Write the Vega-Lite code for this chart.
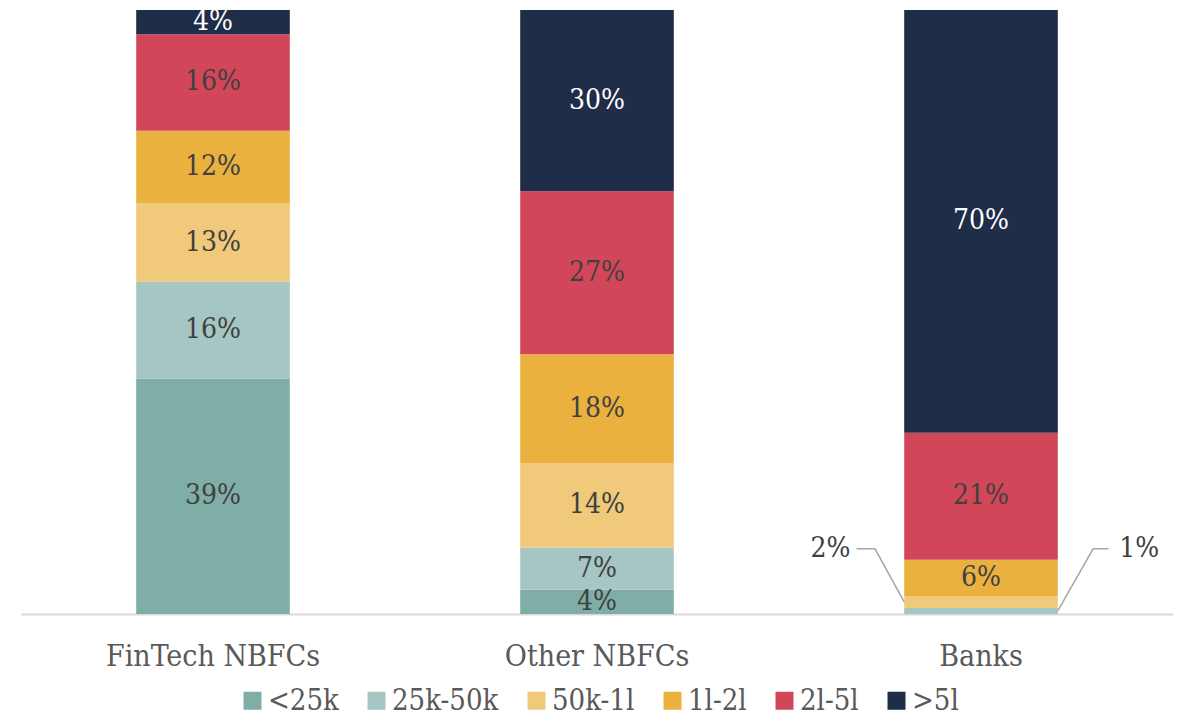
{
  "$schema": "https://vega.github.io/schema/vega-lite/v6.json",
  "width": 1152,
  "height": 604,
  "padding": {"left": 21, "top": 8, "right": 7, "bottom": 0},
  "background": "white",
  "config": {"view": {"stroke": null}, "font": "DejaVu Serif Condensed, DejaVu Serif"},
  "datasets": {
    "shares": [
      {"cat": "FinTech NBFCs", "band": "<25k", "ord": 1, "pct": 39},
      {"cat": "FinTech NBFCs", "band": "25k-50k", "ord": 2, "pct": 16},
      {"cat": "FinTech NBFCs", "band": "50k-1l", "ord": 3, "pct": 13},
      {"cat": "FinTech NBFCs", "band": "1l-2l", "ord": 4, "pct": 12},
      {"cat": "FinTech NBFCs", "band": "2l-5l", "ord": 5, "pct": 16},
      {"cat": "FinTech NBFCs", "band": ">5l", "ord": 6, "pct": 4},
      {"cat": "Other NBFCs", "band": "<25k", "ord": 1, "pct": 4},
      {"cat": "Other NBFCs", "band": "25k-50k", "ord": 2, "pct": 7},
      {"cat": "Other NBFCs", "band": "50k-1l", "ord": 3, "pct": 14},
      {"cat": "Other NBFCs", "band": "1l-2l", "ord": 4, "pct": 18},
      {"cat": "Other NBFCs", "band": "2l-5l", "ord": 5, "pct": 27},
      {"cat": "Other NBFCs", "band": ">5l", "ord": 6, "pct": 30},
      {"cat": "Banks", "band": "<25k", "ord": 1, "pct": 0},
      {"cat": "Banks", "band": "25k-50k", "ord": 2, "pct": 1},
      {"cat": "Banks", "band": "50k-1l", "ord": 3, "pct": 2},
      {"cat": "Banks", "band": "1l-2l", "ord": 4, "pct": 6},
      {"cat": "Banks", "band": "2l-5l", "ord": 5, "pct": 21},
      {"cat": "Banks", "band": ">5l", "ord": 6, "pct": 70}
    ],
    "leaders": [
      {"cat": "Banks", "line": "a", "step": 1, "off": -0.31, "y": 10.8},
      {"cat": "Banks", "line": "a", "step": 2, "off": -0.19, "y": 10.8},
      {"cat": "Banks", "line": "a", "step": 3, "off": 0, "y": 2},
      {"cat": "Banks", "line": "b", "step": 1, "off": 1, "y": 0.5},
      {"cat": "Banks", "line": "b", "step": 2, "off": 1.23, "y": 10.8},
      {"cat": "Banks", "line": "b", "step": 3, "off": 1.33, "y": 10.8}
    ],
    "outside": [
      {"cat": "Banks", "label": "2%", "off": -0.35, "y": 10.8, "side": "left"},
      {"cat": "Banks", "label": "1%", "off": 1.4, "y": 10.8, "side": "right"}
    ]
  },
  "resolve": {"scale": {"xOffset": "independent"}},
  "layer": [
    {
      "data": {"name": "shares"},
      "mark": {"type": "bar"},
      "encoding": {
        "x": {
          "field": "cat", "type": "nominal", "sort": ["FinTech NBFCs", "Other NBFCs", "Banks"],
          "scale": {"paddingInner": 0.6, "paddingOuter": 0.3},
          "axis": {"title": null, "labelAngle": 0, "labelFontSize": 30, "labelLimit": 0, "labelColor": "#595959", "labelPadding": 27, "ticks": false, "domainColor": "#d9d9d9", "domainWidth": 2}
        },
        "y": {"field": "pct", "type": "quantitative", "stack": "zero", "scale": {"domain": [0, 100]}, "axis": null},
        "order": {"field": "ord", "type": "quantitative"},
        "color": {
          "field": "band", "type": "nominal",
          "scale": {"domain": ["<25k", "25k-50k", "50k-1l", "1l-2l", "2l-5l", ">5l"], "range": ["#7eaea6", "#a5c6c2", "#f0c97a", "#ebb13f", "#d2465a", "#1f2d48"]},
          "legend": {"title": null, "orient": "none", "legendX": 217, "legendY": 676, "direction": "horizontal", "symbolType": "square", "symbolSize": 324, "symbolStrokeWidth": 0, "labelFontSize": 29, "labelColor": "#595959", "columnPadding": 23, "labelOffset": 1, "labelLimit": 0}
        }
      }
    },
    {
      "data": {"name": "shares"},
      "transform": [
        {"stack": "pct", "groupby": ["cat"], "sort": [{"field": "ord"}], "as": ["s0", "s1"]},
        {"calculate": "(datum.s0 + datum.s1) / 2", "as": "mid"},
        {"calculate": "datum.pct + '%'", "as": "lbl"},
        {"filter": "datum.pct >= 3"}
      ],
      "mark": {"type": "text", "fontSize": 28, "baseline": "middle"},
      "encoding": {
        "x": {"field": "cat", "type": "nominal", "sort": ["FinTech NBFCs", "Other NBFCs", "Banks"]},
        "y": {"field": "mid", "type": "quantitative"},
        "text": {"field": "lbl", "type": "nominal"},
        "color": {"condition": {"test": "datum.band === '>5l'", "value": "white"}, "value": "#404040"}
      }
    },
    {
      "data": {"name": "leaders"},
      "mark": {"type": "line", "color": "#a6a6a6", "strokeWidth": 1.5},
      "encoding": {
        "x": {"field": "cat", "type": "nominal", "sort": ["FinTech NBFCs", "Other NBFCs", "Banks"], "bandPosition": 0},
        "xOffset": {"field": "off", "type": "quantitative", "scale": {"domain": [0, 1], "zero": false, "nice": false}},
        "y": {"field": "y", "type": "quantitative"},
        "detail": {"field": "line"},
        "order": {"field": "step", "type": "quantitative"}
      }
    },
    {
      "data": {"name": "outside"},
      "transform": [{"filter": "datum.side === 'left'"}],
      "mark": {"type": "text", "fontSize": 28, "baseline": "middle", "align": "right", "color": "#404040"},
      "encoding": {
        "x": {"field": "cat", "type": "nominal", "sort": ["FinTech NBFCs", "Other NBFCs", "Banks"], "bandPosition": 0},
        "xOffset": {"field": "off", "type": "quantitative", "scale": {"domain": [0, 1], "zero": false, "nice": false}},
        "y": {"field": "y", "type": "quantitative"},
        "text": {"field": "label"}
      }
    },
    {
      "data": {"name": "outside"},
      "transform": [{"filter": "datum.side === 'right'"}],
      "mark": {"type": "text", "fontSize": 28, "baseline": "middle", "align": "left", "color": "#404040"},
      "encoding": {
        "x": {"field": "cat", "type": "nominal", "sort": ["FinTech NBFCs", "Other NBFCs", "Banks"], "bandPosition": 0},
        "xOffset": {"field": "off", "type": "quantitative", "scale": {"domain": [0, 1], "zero": false, "nice": false}},
        "y": {"field": "y", "type": "quantitative"},
        "text": {"field": "label"}
      }
    }
  ]
}
